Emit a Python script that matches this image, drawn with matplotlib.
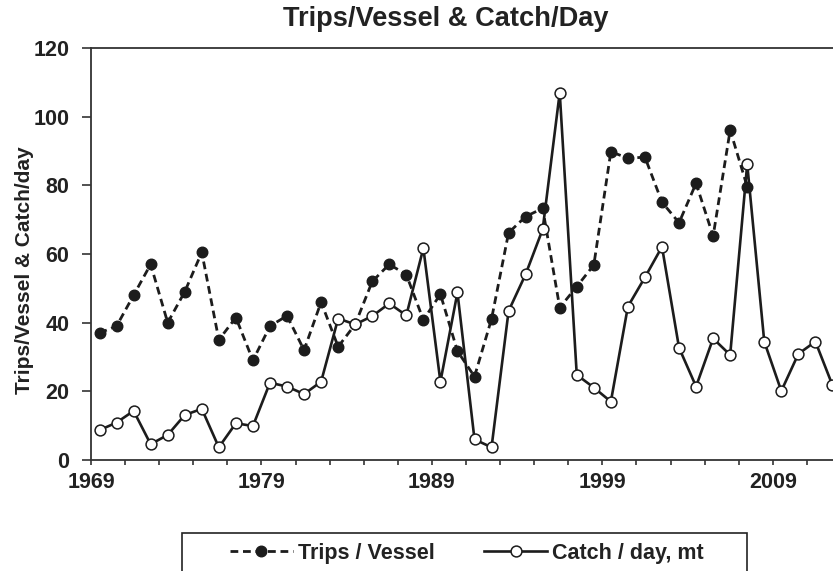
import matplotlib
matplotlib.use("Agg")
import matplotlib.pyplot as plt
from matplotlib.patches import Rectangle
import numpy as np

plt.rcParams['font.family'] = ['Liberation Sans', 'DejaVu Sans']

years = list(range(1969, 2013))
trips_years = list(range(1969, 2008))
trips_per_vessel = [37, 39, 48, 57, 40, 49, 60.5, 35, 41.5, 29,
                    39, 42, 32, 46, 33, 39.5, 52, 57, 54, 40.8,
                    48.3, 31.7, 24.3, 41.1, 66.2, 70.9, 73.3, 44.4, 50.5, 56.8,
                    89.8, 87.9, 88.2, 75.1, 69.1, 80.6, 65.2, 96.1, 79.6]
catch_per_day = [8.7, 10.9, 14.3, 4.6, 7.3, 13.1, 14.9, 3.7, 10.7, 9.9,
                 22.5, 21.4, 19.2, 22.8, 41.2, 39.5, 41.9, 45.6, 42.1, 61.7,
                 22.8, 48.8, 6.0, 3.7, 43.4, 54.1, 67.2, 107.0, 24.8, 21.1,
                 17.0, 44.7, 53.2, 62.1, 32.7, 21.4, 35.4, 30.6, 86.2, 34.5,
                 20.1, 30.9, 34.5, 21.8]
decade_labels = [1969, 1979, 1989, 1999, 2009]
y_ticks = [0, 20, 40, 60, 80, 100, 120]

W, H = 833, 571
fig = plt.figure(figsize=(W / 100, H / 100), dpi=100)
ax = fig.add_axes([91 / W, 111 / H, 767 / W, 412 / H])

dark = '#1c1c1c'
xt = np.array(trips_years) + 0.5
xc = np.array(years) + 0.5

ax.plot(xt, trips_per_vessel, color=dark, lw=2.0, linestyle=(0, (2.8, 1.7)),
        marker='o', markersize=7.6, markerfacecolor=dark, markeredgecolor=dark,
        markeredgewidth=1.0, label='Trips / Vessel', zorder=3, clip_on=False)
ax.plot(xc, catch_per_day, color=dark, lw=1.9, linestyle='-',
        marker='o', markersize=7.8, markerfacecolor='white', markeredgecolor=dark,
        markeredgewidth=1.1, label='Catch / day, mt', zorder=4, clip_on=False)

ax.set_xlim(1969, 2014)
ax.set_ylim(0, 120)
tick_pos = list(range(1969, 2015, 2))
ax.set_xticks(tick_pos)
ax.set_xticklabels([str(t) if t in decade_labels else '' for t in tick_pos])
ax.set_yticks(y_ticks)
ax.set_yticklabels([str(t) for t in y_ticks])

for s in ['left', 'bottom', 'top']:
    ax.spines[s].set_color('#333333')
    ax.spines[s].set_linewidth(1.3)
ax.spines['right'].set_visible(False)

ax.tick_params(axis='y', direction='out', length=6.5, width=1.2, color='#333333',
               pad=9, labelsize=15.5, labelcolor='#222222')
ax.tick_params(axis='x', direction='out', length=3.8, width=1.2, color='#333333',
               pad=5, labelsize=15.5, labelcolor='#222222')
for lab in ax.get_xticklabels() + ax.get_yticklabels():
    lab.set_fontweight('bold')

fig.text(25 / W, 1 - 270 / H, 'Trips/Vessel & Catch/day', rotation=90,
         ha='center', va='center', fontsize=15, fontweight='bold', color='#222222')
fig.text(446 / W, 1 - 19 / H, 'Trips/Vessel & Catch/Day', ha='center', va='center',
         fontsize=19.6, fontweight='bold', color='#222222')

leg = fig.legend(loc='center', bbox_to_anchor=(467 / W, 1 - 553 / H),
                 ncol=2, frameon=False, prop={'size': 15.5, 'weight': 'bold'},
                 handlelength=2.9, handletextpad=0.25, columnspacing=2.3,
                 borderpad=0.0, numpoints=1, borderaxespad=0)
for t in leg.get_texts():
    t.set_color('#222222')
fig.patches.append(Rectangle((182 / W, -0.02), (747 - 182) / W, 0.02 + (571 - 533) / H,
                             transform=fig.transFigure, fill=False,
                             edgecolor='#222222', linewidth=1.2))

fig.savefig('out.png', dpi=100, facecolor='white')
